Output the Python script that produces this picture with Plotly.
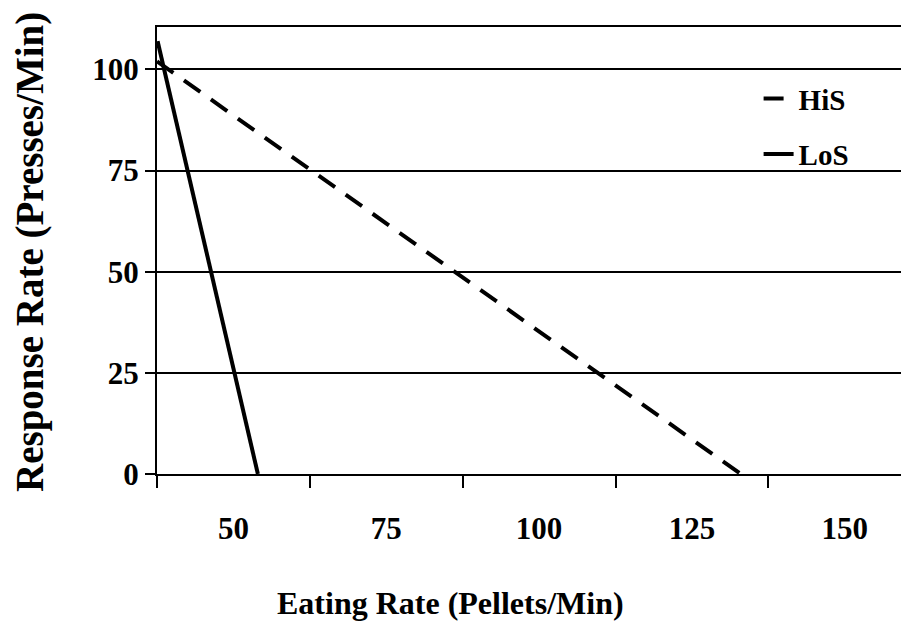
import plotly.graph_objects as go

# Data
his_x = [37.5, 133.0]
his_y = [102.0, 0.0]
los_x = [37.6, 54.0]
los_y = [107.0, 0.0]

x_tick_vals = [50, 75, 100, 125, 150]
x_tick_text = ["50", "75", "100", "125", "150"]
x_minor_ticks = [37.5, 62.5, 87.5, 112.5, 137.5]
y_tick_vals = [0, 25, 50, 75, 100]

x_title = "Eating Rate (Pellets/Min)"
y_title = "Response Rate (Presses/Min)"

FONT = "Liberation Serif, Times New Roman, serif"

fig = go.Figure()
fig.add_trace(go.Scatter(x=his_x, y=his_y, mode="lines", name="HiS",
                         legendgroup="a",
                         line=dict(color="black", width=4, dash="20px,13px")))
fig.add_trace(go.Scatter(x=los_x, y=los_y, mode="lines", name="LoS",
                         legendgroup="b",
                         line=dict(color="black", width=4)))

# page body has an 8px margin, so the figure is sized/offset accordingly
fig.update_layout(
    width=901, height=619,
    margin=dict(l=149, r=0, t=19, b=153),
    paper_bgcolor="white", plot_bgcolor="white",
    font=dict(family=FONT, color="black", weight="bold"),
    showlegend=True,
    legend=dict(x=0.80, y=0.897, xanchor="left", yanchor="top",
                font=dict(size=29, family=FONT, weight="bold"),
                bgcolor="rgba(0,0,0,0)", borderwidth=0,
                tracegroupgap=15),
    annotations=[
        dict(text=x_title, xref="paper", yref="paper",
             x=(450 - 157) / 752, y=-(603 - 474) / 447,
             xanchor="center", yanchor="middle", showarrow=False,
             font=dict(size=32, family=FONT, weight="bold")),
        dict(text=y_title, xref="paper", yref="paper",
             x=-(157 - 30) / 752, y=(474 - 252) / 447,
             xanchor="center", yanchor="middle", showarrow=False,
             textangle=-90,
             font=dict(size=39, family=FONT, weight="bold")),
    ],
)
fig.update_xaxes(
    range=[37.5, 160.5], automargin=False,
    tickmode="array", tickvals=x_tick_vals, ticktext=x_tick_text,
    ticks="", ticklabelstandoff=26,
    tickfont=dict(size=31, family=FONT, weight="bold"),
    minor=dict(tickvals=x_minor_ticks, ticks="outside", ticklen=12,
               tickwidth=2, tickcolor="black", showgrid=False),
    showgrid=False, zeroline=False,
    showline=True, linecolor="black", linewidth=2, mirror=True,
)
fig.update_yaxes(
    range=[0, 110.5], automargin=False,
    tickmode="array", tickvals=y_tick_vals,
    ticks="outside", ticklen=10, tickwidth=2, tickcolor="black",
    tickfont=dict(size=31, family=FONT, weight="bold"),
    showgrid=True, gridcolor="black", gridwidth=2,
    zeroline=False,
    showline=True, linecolor="black", linewidth=2,
)

fig.write_html("out.html")
